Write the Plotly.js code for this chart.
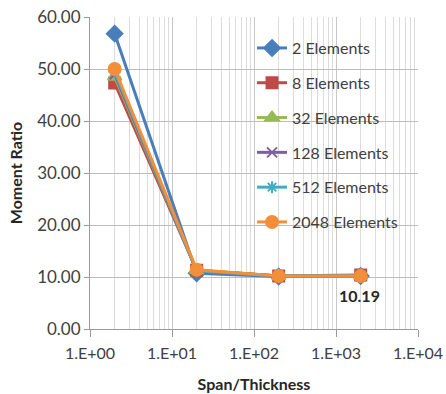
<!DOCTYPE html>
<html><head><meta charset="utf-8">
<script src="https://cdn.plot.ly/plotly-3.0.1.min.js"></script>
<style>body{margin:0;background:#fff}#c{width:446px;height:394px}</style>
</head><body><div id="c"></div>
<script>
const spanThickness = [2, 20, 200, 2000];
const seriesNames = ["2 Elements","8 Elements","32 Elements","128 Elements","512 Elements","2048 Elements"];
const el2    = [56.8, 10.7, 10.1, 10.2];
const el8    = [47.3, 11.3, 10.2, 10.4];
const el32   = [48.5, 11.3, 10.2, 10.3];
const el128  = [49.0, 11.2, 10.2, 10.2];
const el512  = [49.5, 11.2, 10.2, 10.2];
const el2048 = [50.0, 11.4, 10.2, 10.19];
const xTickVals = [1, 10, 100, 1000, 10000];
const xTickText = ["1.E+00","1.E+01","1.E+02","1.E+03","1.E+04"];
const annotText = "10.19";

const values = [el2, el8, el32, el128, el512, el2048];
const colors = ["#4A7EBB","#BE4B48","#98B954","#7D60A0","#46AAC5","#F28F38"];
const symbols = ["diamond","square","triangle-up","x-thin-open","asterisk-open","circle"];
const msize = [12, 11, 12, 10, 10, 12];

const FONT = "Lato, 'Liberation Sans', sans-serif";
const traces = values.map((v, i) => ({
  x: spanThickness, y: v, type: "scatter", mode: "lines+markers",
  name: seriesNames[i], legendgroup: "g" + i,
  line: {color: colors[i], width: 3},
  marker: {symbol: symbols[i], size: msize[i], color: colors[i],
           line: {color: colors[i], width: 2}}
}));

const layout = {
  width: 446, height: 394,
  margin: {l: 90, r: 28, t: 17, b: 65},
  paper_bgcolor: "#fff", plot_bgcolor: "#fff",
  font: {family: FONT, size: 16, color: "#404040"},
  showlegend: true,
  legend: {x: 0.494, y: 0.955, xanchor: "left", yanchor: "top",
           bgcolor: "rgba(0,0,0,0)", traceorder: "grouped", tracegroupgap: 11,
           font: {family: FONT, size: 16, color: "#404040"}},
  xaxis: {type: "log", range: [0, 4], tickvals: xTickVals, ticktext: xTickText,
          showgrid: true, gridcolor: "#c8c8c8", gridwidth: 1,
          minor: {showgrid: true, dtick: "D1", gridcolor: "#dcdcdc", gridwidth: 1},
          showline: true, linecolor: "#9a9a9a", linewidth: 1,
          ticks: "outside", ticklen: 7, tickcolor: "#9a9a9a",
          ticklabelstandoff: 3,
          tickfont: {family: FONT, size: 16, color: "#404040"},
          zeroline: false,
          title: {text: "<b>Span/Thickness</b>", standoff: 17,
                  font: {family: FONT, size: 16, color: "#262626"}}},
  yaxis: {range: [0, 60], dtick: 10, tickformat: ".2f",
          showgrid: true, gridcolor: "#bdbdbd", gridwidth: 1,
          showline: true, linecolor: "#9a9a9a", linewidth: 1,
          ticks: "outside", ticklen: 5, tickcolor: "#9a9a9a",
          tickfont: {family: FONT, size: 17, color: "#404040"},
          zeroline: false,
          title: {text: "<b>Moment Ratio</b>", standoff: 10,
                  font: {family: FONT, size: 16, color: "#262626"}}},
  annotations: [{x: Math.log10(spanThickness[3]), y: el2048[3], xref: "x", yref: "y",
                 text: "<b>" + annotText + "</b>", showarrow: false,
                 yshift: -19, xshift: -1,
                 font: {family: FONT, size: 16, color: "#262626"}}]
};
Plotly.newPlot("c", traces, layout, {displayModeBar: false, staticPlot: true});
</script></body></html>
